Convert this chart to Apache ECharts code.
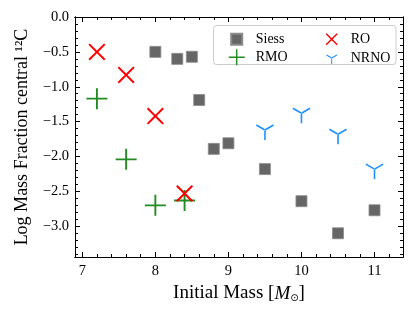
<!DOCTYPE html>
<html>
<head>
<meta charset="utf-8">
<script src="https://cdn.jsdelivr.net/npm/echarts@6/dist/echarts.min.js"></script>
<style>html,body{margin:0;padding:0;background:#fff;}#c{width:416px;height:314px;}</style>
</head>
<body>
<div id="c"></div>
<script>
// ---- data ----
const siessMass = [8.0, 8.3, 8.5, 8.6, 8.8, 9.0, 9.5, 10.0, 10.5, 11.0];
const siessC12  = [-0.50, -0.60, -0.57, -1.19, -1.89, -1.81, -2.18, -2.64, -3.10, -2.77];
const rmoMass   = [7.2, 7.6, 8.0, 8.4];
const rmoC12    = [-1.17, -2.04, -2.70, -2.63];
const roMass    = [7.2, 7.6, 8.0, 8.4];
const roC12     = [-0.50, -0.83, -1.42, -2.53];
const nrnoMass  = [9.5, 10.0, 10.5, 11.0];
const nrnoC12   = [-1.62, -1.38, -1.68, -2.18];
const xTicks = [7, 8, 9, 10, 11];
const yTicks = [0, -0.5, -1.0, -1.5, -2.0, -2.5, -3.0];
const seriesNames = ['Siess', 'RMO', 'RO', 'NRNO'];

// ---- styling ----
const FONT = 'Liberation Serif';
const XMIN = 6.9, XMAX = 11.39, YMIN = -3.44, YMAX = 0;
const xMinor = [], yMinor = [];
for (let i = 35; i <= 56; i++) { const v = i / 5; if (v > XMIN && v < XMAX && Math.abs(v - Math.round(v)) > 1e-6) xMinor.push(+v.toFixed(1)); }
for (let i = -34; i <= 0; i++) { const v = i / 10; if (v >= YMIN && v <= YMAX && Math.abs(v * 2 - Math.round(v * 2)) > 1e-6) yMinor.push(+v.toFixed(1)); }

const P_SQ_LEG = 'path://M0,0 M100,100 M15.5,15.5 L84.5,15.5 L84.5,84.5 L15.5,84.5 Z';
const P_PLUS = 'path://M45.5,0 L54.5,0 L54.5,45.5 L100,45.5 L100,54.5 L54.5,54.5 L54.5,100 L45.5,100 L45.5,54.5 L0,54.5 L0,45.5 L45.5,45.5 Z';
const P_X = 'path://M0,8.3 L8.3,0 L50,41.7 L91.7,0 L100,8.3 L58.3,50 L100,91.7 L91.7,100 L50,58.3 L8.3,100 L0,91.7 L41.7,50 Z';
const P_TRI = 'path://M50,0 M46,50 L54,50 L54,100 L46,100 Z M52,46.54 L8.7,21.54 L4.7,28.46 L48,53.46 Z M48,46.54 L91.3,21.54 L95.3,28.46 L52,53.46 Z';

const fmtY = v => (v < 0 ? '\u2212' + Math.abs(v).toFixed(1) : Math.abs(v).toFixed(1));
const zip = (a, b) => a.map((x, i) => [x, b[i]]);

function xAxisDef(pos, ticks, len, labels, extra) {
  return Object.assign({
    type: 'value', min: XMIN, max: XMAX, position: pos,
    axisLine: { show: true, onZero: false, lineStyle: { color: '#000', width: 1 } },
    axisTick: { show: true, inside: true, length: len, customValues: ticks, lineStyle: { color: '#000', width: 1 } },
    axisLabel: labels ? { show: true, customValues: xTicks, color: '#000', fontFamily: FONT, fontSize: 14.5, margin: 7 } : { show: false },
    splitLine: { show: false }
  }, extra || {});
}
function yAxisDef(pos, ticks, len, labels, extra) {
  return Object.assign({
    type: 'value', min: YMIN, max: YMAX, position: pos,
    axisLine: { show: true, onZero: false, lineStyle: { color: '#000', width: 1 } },
    axisTick: { show: true, inside: true, length: len, customValues: ticks, lineStyle: { color: '#000', width: 1 } },
    axisLabel: labels ? { show: true, customValues: yTicks, formatter: fmtY, color: '#000', fontFamily: FONT, fontSize: 14.5, margin: 6 } : { show: false },
    splitLine: { show: false }
  }, extra || {});
}

const chart = echarts.init(document.getElementById('c'), null, { renderer: 'canvas' });
chart.setOption({
  animation: false,
  backgroundColor: '#fff',
  grid: { left: 75, right: 13, top: 17, bottom: 57, containLabel: false },
  xAxis: [
    xAxisDef('bottom', xTicks, 5, true, {
      name: '{a|Initial Mass [}{m|M}{s|\u2299}{a|]}', nameLocation: 'middle', nameGap: 27,
      nameTextStyle: { color: '#000', fontFamily: FONT, fontSize: 19,
        rich: { a: { fontFamily: FONT, fontSize: 19, color: '#000' },
                m: { fontFamily: FONT, fontSize: 19, fontStyle: 'italic', color: '#000' },
                s: { fontFamily: 'DejaVu Sans', fontSize: 10, color: '#000', verticalAlign: 'bottom', padding: [6, 0, 0, 0] } } }
    }),
    xAxisDef('bottom', xMinor, 3, false),
    xAxisDef('top', xTicks, 5, false),
    xAxisDef('top', xMinor, 3, false)
  ],
  yAxis: [
    yAxisDef('left', yTicks, 5, true, {
      name: 'Log Mass Fraction central \u00b9\u00b2C', nameLocation: 'middle', nameGap: 44,
      nameTextStyle: { color: '#000', fontFamily: FONT, fontSize: 18 }
    }),
    yAxisDef('left', yMinor, 3, false),
    yAxisDef('right', yTicks, 5, false),
    yAxisDef('right', yMinor, 3, false)
  ],
  legend: [
    { data: [{ name: 'Siess', icon: P_SQ_LEG }, { name: 'RMO', icon: P_PLUS }],
      orient: 'vertical', left: 222.7, top: 25.3, itemWidth: 16, itemHeight: 16, itemGap: 1, z: 10,
      textStyle: { fontFamily: FONT, fontSize: 14, color: '#000', padding: [0, 0, 0, 6] } },
    { data: [{ name: 'RO', icon: P_X }, { name: 'NRNO', icon: P_TRI }],
      orient: 'vertical', left: 320.7, top: 27.3, itemWidth: 12, itemHeight: 12, itemGap: 4.7, z: 10,
      textStyle: { fontFamily: FONT, fontSize: 14, color: '#000', padding: [0, 0, 0, 8] } }
  ],
  graphic: [{
    type: 'rect', z: 5, shape: { x: 213.5, y: 25.5, width: 182.5, height: 39, r: 3 },
    style: { fill: 'rgba(255,255,255,0.85)', stroke: '#cccccc', lineWidth: 1 }
  }],
  series: [
    { name: 'Siess', type: 'scatter', data: zip(siessMass, siessC12), symbol: 'rect', symbolSize: 11,
      itemStyle: { color: '#666666', borderColor: '#8a8a8a', borderWidth: 0.8, opacity: 1 } },
    { name: 'RMO', type: 'scatter', data: zip(rmoMass, rmoC12), symbol: P_PLUS, symbolSize: 21,
      itemStyle: { color: '#228B22', opacity: 1 } },
    { name: 'RO', type: 'scatter', data: zip(roMass, roC12), symbol: P_X, symbolSize: 17,
      itemStyle: { color: '#FF0000', opacity: 1 } },
    { name: 'NRNO', type: 'scatter', data: zip(nrnoMass, nrnoC12), symbol: P_TRI, symbolSize: [18, 20],
      itemStyle: { color: '#1E90FF', opacity: 1 } }
  ]
});
</script>
</body>
</html>
